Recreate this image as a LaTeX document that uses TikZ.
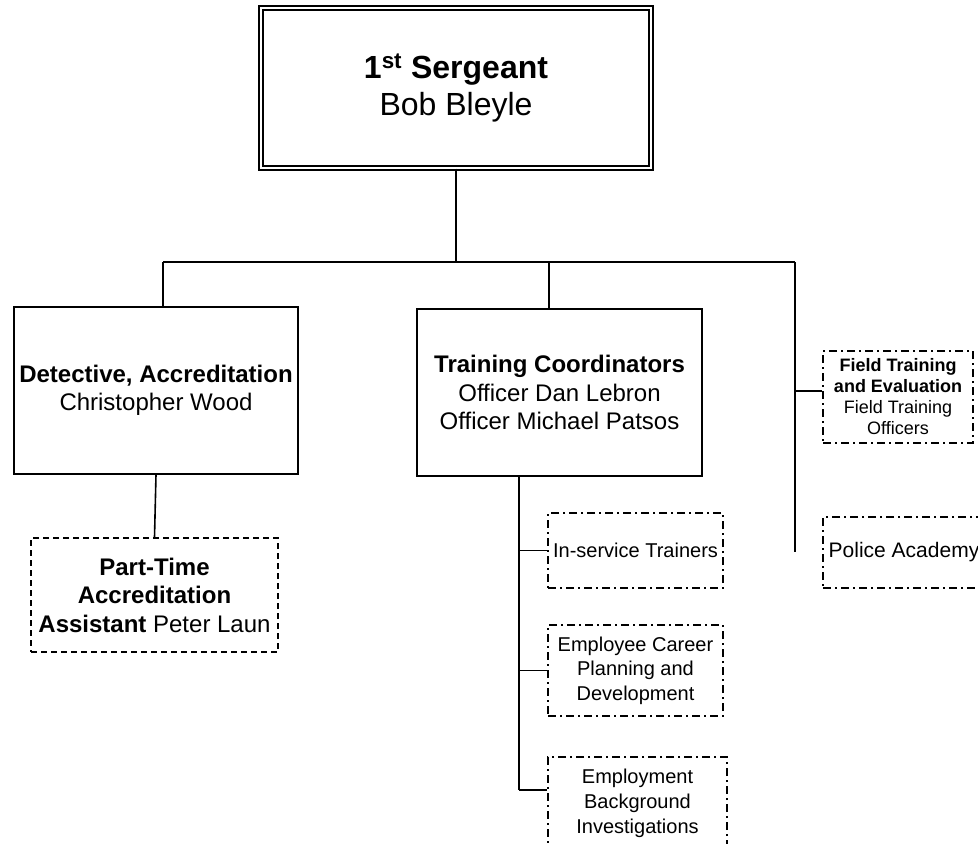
\documentclass[tikz,border=0pt]{standalone}
\usepackage{fontspec}
\setmainfont{Liberation Sans}
\usetikzlibrary{positioning}

\begin{document}
\begin{tikzpicture}[
    x=1pt, y=-1pt, % pixel grid, y going down
    % Styles
    box/.style={ % Solid unit box
        draw,
        line width=1.4pt,
        align=center,
        inner sep=0pt
    },
    chief/.style={ % Head of the unit
        box,
        double,
        line width=1.3pt,
        double distance=2.7pt,
        font=\fontsize{32}{37}\selectfont
    },
    dashbox/.style={ % Part-time position
        box,
        line width=1.2pt,
        dash pattern=on 6pt off 4pt
    },
    dotbox/.style={ % Duties and programs
        box,
        line width=1.2pt,
        dash pattern=on 8pt off 4pt on 2pt off 4pt
    },
    link/.style={
        line width=1.6pt
    }
]
    \path[use as bounding box, clip] (0,0) rectangle (978,844);

    % Chart nodes
    \node[chief, minimum width=390pt, minimum height=160pt] (sgt) at (456,88)
        {\textbf{1\textsuperscript{st} Sergeant}\\Bob Bleyle};
    \node[box, minimum width=284pt, minimum height=167pt,
        font=\fontsize{24}{28}\selectfont] (det) at (156,390.5)
        {\textbf{Detective, Accreditation}\\Christopher Wood};
    \node[box, minimum width=285pt, minimum height=167pt,
        font=\fontsize{24}{28.5}\selectfont] (train) at (559.5,392.5)
        {\textbf{Training Coordinators}\\Officer Dan Lebron\\Officer Michael Patsos};
    \node[dashbox, minimum width=247pt, minimum height=114pt,
        font=\fontsize{24}{28.5}\selectfont] (pta) at (154.5,595)
        {\textbf{Part-Time}\\\textbf{Accreditation}\\\textbf{Assistant} Peter Laun};
    \node[dotbox, minimum width=150pt, minimum height=92pt,
        font=\fontsize{18}{21}\selectfont] (fte) at (898,397)
        {\textbf{Field Training}\\\textbf{and Evaluation}\\Field Training\\Officers};
    \node[dotbox, minimum width=162pt, minimum height=71pt,
        font=\fontsize{21}{24}\selectfont] (pol) at (904,552.5)
        {Police Academy};
    \node[dotbox, minimum width=175pt, minimum height=75pt,
        font=\fontsize{20}{24}\selectfont] (isv) at (635.5,550.5)
        {In-service Trainers};
    \node[dotbox, minimum width=175pt, minimum height=91pt,
        font=\fontsize{20}{24.5}\selectfont] (ecp) at (635.5,670.5)
        {Employee Career\\Planning and\\Development};
    \node[dotbox, minimum width=179pt, minimum height=92pt,
        font=\fontsize{20}{25}\selectfont] (emb) at (637.5,803)
        {Employment\\Background\\Investigations};

    % Bus and trunk ends
    \coordinate (busL) at (163,262);
    \coordinate (busM) at (549,262);
    \coordinate (busR) at (795,262);
    \coordinate (rEnd) at (795,552);
    \coordinate (tEnd) at (519,790);
    \coordinate (fteIn) at ([yshift=6pt]fte.west);

    % Chart edges
    \draw[link] (sgt.south) -- (sgt.south |- busL);
    \draw[link] (busL) -- (busR);
    \draw[link] (busL) -- (busL |- det.north);
    \draw[link] (busM) -- (busM |- train.north);
    \draw[link] (busR) -- (rEnd);
    \draw[link] (rEnd |- fteIn) -- (fteIn);
    \draw[link] (det.south) -- (pta.north);
    \draw[link] (train.south -| tEnd) -- (tEnd);
    \draw[link] (tEnd |- isv.west) -- (isv.west);
    \draw[link] (tEnd |- ecp.west) -- (ecp.west);
    \draw[link] (tEnd) -- (tEnd -| emb.west);
\end{tikzpicture}
\end{document}
